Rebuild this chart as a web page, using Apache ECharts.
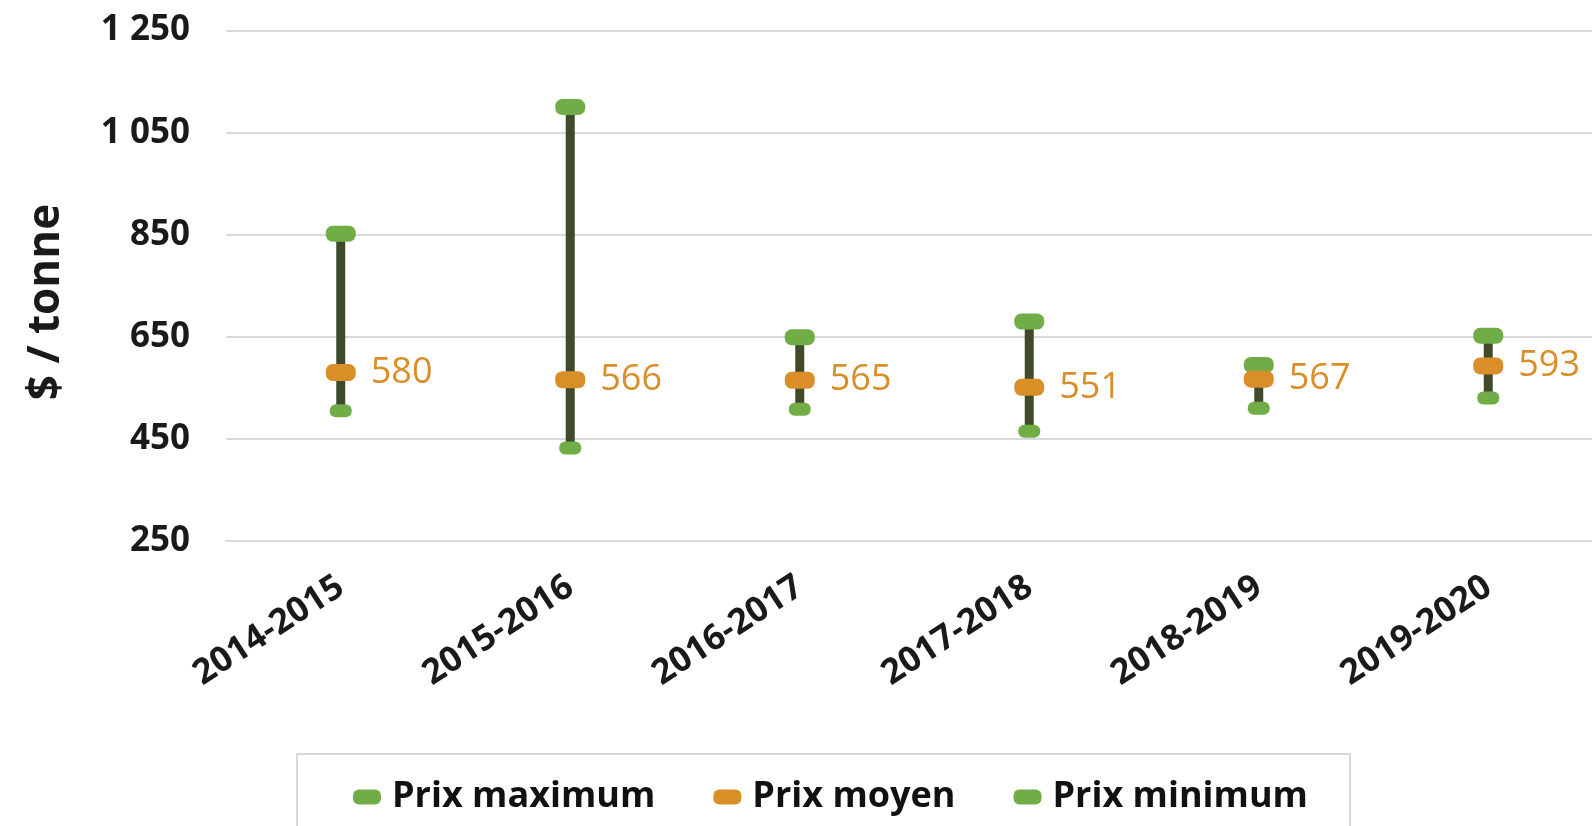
<!DOCTYPE html>
<html>
<head>
<meta charset="utf-8">
<script src="https://cdn.jsdelivr.net/npm/echarts@6/dist/echarts.min.js"></script>
<style>
html,body{margin:0;padding:0;background:#fff;}
#chart{width:1592px;height:826px;}
</style>
</head>
<body>
<div id="chart"></div>
<script>
const categories = ['2014-2015','2015-2016','2016-2017','2017-2018','2018-2019','2019-2020'];
const maxPrices = [852, 1100, 649, 680, 595, 652];
const meanPrices = [580, 566, 565, 551, 567, 593];
const minPrices = [505, 432, 508, 465, 510, 530];
const yTicks = [250, 450, 650, 850, 1050, 1250];

const green = '#70AD47';
const orange = '#D98E28';
const stem = '#3F4A2B';
const FONT = '"Open Sans", "Liberation Sans", sans-serif';

function pill(w, h, r) {
  return 'path://M' + r + ',0 H' + (w - r) + ' A' + r + ',' + r + ' 0 0 1 ' + w + ',' + r +
    ' V' + (h - r) + ' A' + r + ',' + r + ' 0 0 1 ' + (w - r) + ',' + h +
    ' H' + r + ' A' + r + ',' + r + ' 0 0 1 0,' + (h - r) +
    ' V' + r + ' A' + r + ',' + r + ' 0 0 1 ' + r + ',0 Z';
}

const chart = echarts.init(document.getElementById('chart'));
chart.setOption({
  animation: false,
  backgroundColor: '#fff',
  grid: { left: 226, top: 30.5, width: 1377, height: 510.5, containLabel: false, outerBoundsMode: 'none' },
  xAxis: {
    type: 'category',
    data: categories,
    boundaryGap: true,
    axisLine: { show: true, lineStyle: { color: '#d9d9d9', width: 2 } },
    axisTick: { show: false },
    axisLabel: {
      interval: 0, rotate: 33, margin: 43,
      fontFamily: FONT, fontWeight: 'bold', fontSize: 35, color: '#1a1a1a'
    }
  },
  yAxis: {
    type: 'value',
    min: yTicks[0], max: yTicks[yTicks.length - 1], interval: 200,
    axisLine: { show: false },
    axisTick: { show: false },
    splitLine: { show: true, lineStyle: { color: '#d9d9d9', width: 2 } },
    axisLabel: {
      margin: 36,
      fontFamily: FONT, fontWeight: 'bold', fontSize: 35, color: '#1a1a1a',
      formatter: v => String(v).replace(/\B(?=(\d{3})+(?!\d))/g, ' ')
    }
  },
  legend: {
    data: [
      { name: 'Prix maximum', icon: pill(28, 15, 6) },
      { name: 'Prix moyen', icon: pill(28, 15, 6) },
      { name: 'Prix minimum', icon: pill(28, 15, 6) }
    ],
    left: 297, top: 754,
    orient: 'horizontal',
    itemWidth: 28, itemHeight: 15,
    itemGap: 58,
    padding: [25, 42, 40, 56],
    borderColor: '#d9d9d9', borderWidth: 2,
    textStyle: { fontFamily: FONT, fontWeight: 'bold', fontSize: 36, color: '#111', padding: [0, 0, 0, 6] }
  },
  graphic: [{
    type: 'text',
    x: 46, y: 302,
    rotation: Math.PI / 2,
    style: {
      text: '$ / tonne',
      fontFamily: FONT, fontWeight: 'bold', fontSize: 44, fill: '#1a1a1a',
      textAlign: 'center', textVerticalAlign: 'middle'
    }
  }],
  series: [
    {
      name: 'range',
      type: 'custom',
      data: categories.map((c, i) => [i, minPrices[i], maxPrices[i]]),
      encode: { x: 0, y: [1, 2] },
      z: 1,
      renderItem: (params, api) => {
        const i = api.value(0);
        const a = api.coord([i, api.value(1)]);
        const b = api.coord([i, api.value(2)]);
        return {
          type: 'line',
          shape: { x1: a[0], y1: a[1], x2: b[0], y2: b[1] },
          style: { stroke: stem, lineWidth: 9 }
        };
      }
    },
    {
      name: 'Prix maximum', type: 'scatter', data: maxPrices, z: 3,
      symbol: pill(30, 16, 7), symbolSize: [30, 16],
      itemStyle: { color: green, opacity: 1 }
    },
    {
      name: 'Prix minimum', type: 'scatter', data: minPrices, z: 3,
      symbol: pill(22, 13, 6), symbolSize: [22, 13],
      itemStyle: { color: green, opacity: 1 }
    },
    {
      name: 'Prix moyen', type: 'scatter', data: meanPrices, z: 4,
      symbol: pill(30, 17, 7), symbolSize: [30, 17],
      itemStyle: { color: orange, opacity: 1 },
      label: {
        show: true, position: 'right', distance: 15,
        fontFamily: FONT, fontSize: 36, color: orange
      }
    }
  ]
});
</script>
</body>
</html>
